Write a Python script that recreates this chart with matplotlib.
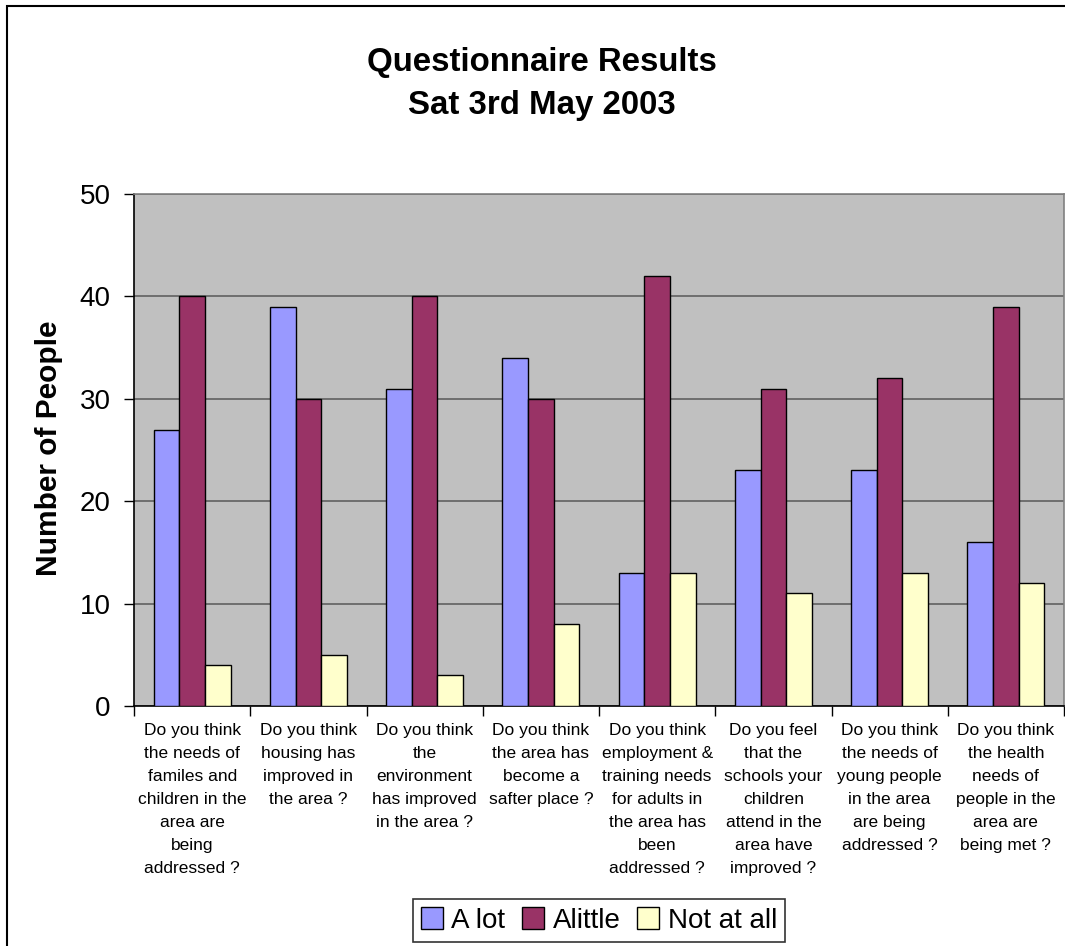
import matplotlib
matplotlib.use("Agg")
import matplotlib.pyplot as plt
from matplotlib.patches import Rectangle, Patch
import numpy as np

plt.rcParams['font.family'] = ['Liberation Sans', 'DejaVu Sans']

categories = [
    "Do you think\nthe needs of\nfamiles and\nchildren in the\narea are\nbeing\naddressed ?",
    "Do you think\nhousing has\nimproved in\nthe area ?",
    "Do you think\nthe\nenvironment\nhas improved\nin the area ?",
    "Do you think\nthe area has\nbecome a\nsafter place ?",
    "Do you think\nemployment &\ntraining needs\nfor adults in\nthe area has\nbeen\naddressed ?",
    "Do you feel\nthat the\nschools your\nchildren\nattend in the\narea have\nimproved ?",
    "Do you think\nthe needs of\nyoung people\nin the area\nare being\naddressed ?",
    "Do you think\nthe health\nneeds of\npeople in the\narea are\nbeing met ?",
]
series_names = ["A lot", "Alittle", "Not at all"]
a_lot = [27, 39, 31, 34, 13, 23, 23, 16]
a_little = [40, 30, 40, 30, 42, 31, 32, 39]
not_at_all = [4, 5, 3, 8, 13, 11, 13, 12]
y_ticks = [0, 10, 20, 30, 40, 50]

colors = ["#9999FF", "#993366", "#FFFFCC"]

W, H = 1065, 946
fig = plt.figure(figsize=(W / 100, H / 100), dpi=100)
fig.patch.set_facecolor("white")

# outer chart border
fig.add_artist(Rectangle((7 / W, -0.1), 1.2, 1 - 6 / H + 0.1, transform=fig.transFigure,
                         fill=False, edgecolor="black", linewidth=1.5))

ax = fig.add_axes([134 / W, 240 / H, (1064 - 134) / W, (706 - 194) / H])
ax.set_facecolor("#C0C0C0")

x = np.arange(len(categories))
bw = 0.221
for i, (vals, c) in enumerate(zip([a_lot, a_little, not_at_all], colors)):
    ax.bar(x + (i - 1) * bw, vals, width=bw, color=c, edgecolor="black", linewidth=1.0, zorder=3)

ax.set_xlim(-0.5, len(categories) - 0.5)
ax.set_ylim(0, 50)
ax.set_yticks(y_ticks)
ax.set_yticklabels([str(t) for t in y_ticks], fontsize=20)
ax.yaxis.grid(True, color="#606060", linewidth=1.2, zorder=1)
ax.set_axisbelow(True)

ax.set_xticks(np.arange(len(categories) + 1) - 0.5)
ax.set_xticklabels([])
ax.set_xticks(x, minor=True)
ax.set_xticklabels(categories, minor=True, fontsize=12.5, linespacing=1.66, va="top")
ax.tick_params(axis="x", which="minor", length=0, pad=12.5)
ax.tick_params(axis="x", which="major", length=7, width=1, color="black", direction="out")
ax.tick_params(axis="y", length=7.2, width=1, color="black", direction="out", pad=9.5)

for s in ["top", "right"]:
    ax.spines[s].set_color("#808080")
    ax.spines[s].set_linewidth(1.2)
for s in ["left", "bottom"]:
    ax.spines[s].set_color("black")
    ax.spines[s].set_linewidth(1.2)

fig.text(49 / W, 1 - 448 / H, "Number of People", rotation=90, fontsize=21.5, fontweight="bold",
         ha="center", va="center")

fig.text(542 / W, 1 - 84 / H, "Questionnaire Results\nSat 3rd May 2003", fontsize=23.8,
         fontweight="bold", ha="center", va="center", linespacing=1.53)

handles = [Patch(facecolor=c, edgecolor="black", linewidth=1.0) for c in colors]
leg = fig.legend(handles, series_names, loc="center", bbox_to_anchor=(599 / W, 1 - 920.5 / H),
                 ncol=3, fontsize=20, frameon=True, fancybox=False, edgecolor="black",
                 handlelength=0.8, handleheight=0.8, handletextpad=0.3, columnspacing=0.6,
                 borderpad=0.3, borderaxespad=0)
leg.get_frame().set_linewidth(1.2)

fig.savefig("out.png", dpi=100)
